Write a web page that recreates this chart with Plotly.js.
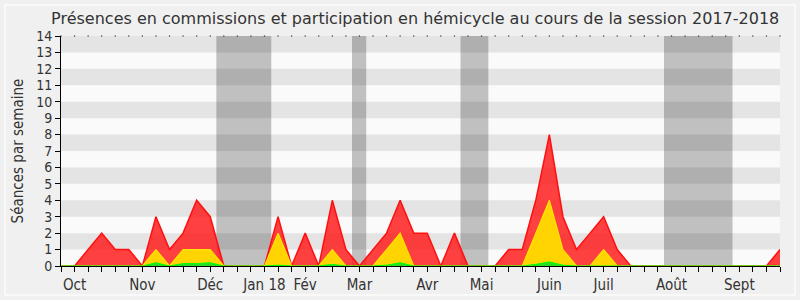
<!DOCTYPE html>
<html>
<head>
<meta charset="utf-8">
<script src="https://cdn.plot.ly/plotly-3.0.1.min.js"></script>
<style>html,body{margin:0;padding:0;background:#f0f0f0;}#chart{width:800px;height:300px;}</style>
</head>
<body>
<div id="chart"></div>
<script>
// Week index of the 2017-2018 session (0 .. 53)
const weeks = [0,1,2,3,4,5,6,7,8,9,10,11,12,13,14,15,16,17,18,19,20,21,22,23,24,25,26,27,28,29,30,31,32,33,34,35,36,37,38,39,40,41,42,43,44,45,46,47,48,49,50,51,52,53];
// Présences en commission (red, total)
const presences = [0,0,1,2,1,1,0,3,1,2,4,3,0,0,0,0,3,0,2,0,4,1,0,1,2,4,2,2,0,2,0,0,0,1,1,4,8,3,1,2,3,1,0,0,0,0,0,0,0,0,0,0,0,1];
// Participation en hémicycle (yellow)
const hemicycle = [0,0,0,0,0,0,0,1,0,1,1,1,0,0,0,0,2,0,0,0,1,0,0,0,1,2,0,0,0,0,0,0,0,0,0,2,4,1,0,0,1,0,0,0,0,0,0,0,0,0,0,0,0,0];
// Interventions (green)
const interventions = [0,0,0,0,0,0,0,0.2,0,0.15,0.15,0.2,0,0,0,0,0.05,0,0,0,0.1,0,0,0,0.05,0.2,0,0,0,0,0,0,0,0,0,0.1,0.25,0.05,0,0,0,0,0,0,0,0,0,0,0,0,0,0,0,0];
// Month labels and their week index
const monthLabels = ["Oct","Nov","Déc","Jan 18","Fév","Mar","Avr","Mai","Juin","Juil","Août","Sept"];
const monthWeeks = [1,6,11,15,18,22,27,31,36,40,45,50];
// Parliamentary holidays (week ranges)
const vacStart = [11.45,21.45,29.45,44.45];
const vacEnd = [15.5,22.5,31.5,49.5];
const yTicks = [0,1,2,3,4,5,6,7,8,9,10,11,12,13,14];

const tickText = weeks.map(w => { const k = monthWeeks.indexOf(w); return k >= 0 ? monthLabels[k] : ""; });

const shapes = [];
for (let i = 0; i < vacStart.length; i++) {
  shapes.push({type:'rect', layer:'below', xref:'x', yref:'paper', x0:vacStart[i], x1:vacEnd[i], y0:0, y1:1,
    fillcolor:'rgb(192,192,192)', line:{width:0}});
}
for (let v = 1; v < 14; v += 2) {
  shapes.push({type:'rect', layer:'below', xref:'paper', yref:'y', x0:0, x1:1, y0:v, y1:v+1,
    fillcolor:'rgba(0,0,0,0.085)', line:{width:0}});
}
// outer frame
shapes.push({type:'rect', layer:'below', xref:'paper', yref:'paper',
  x0:-56/719, x1:1+15/719, y0:-29/230, y1:1+31/230, line:{color:'#fbfbfb', width:1.5}, fillcolor:'rgba(0,0,0,0)'});

const font = "DejaVu Sans Condensed, DejaVu Sans, sans-serif";
const traces = [
  {x:weeks, y:presences, type:'scatter', mode:'lines', fill:'tozeroy',
   fillcolor:'rgba(255,30,30,0.85)', line:{color:'#ff1010', width:1.5}, hoverinfo:'skip'},
  {x:weeks, y:hemicycle, type:'scatter', mode:'lines', fill:'tozeroy',
   fillcolor:'rgb(255,212,0)', line:{color:'#ffe600', width:1.2}, hoverinfo:'skip'},
  {x:weeks, y:interventions, type:'scatter', mode:'lines', fill:'tozeroy',
   fillcolor:'rgb(40,220,40)', line:{color:'#00ff00', width:1}, hoverinfo:'skip'},
  {x:weeks, y:weeks.map(() => 14), type:'scatter', mode:'markers', cliponaxis:false,
   marker:{size:1.5, color:'#444'}, hoverinfo:'skip'}
];

const layout = {
  width:800, height:300,
  margin:{l:61, r:20, t:36, b:34},
  paper_bgcolor:'#f0f0f0', plot_bgcolor:'#fafafa',
  showlegend:false,
  font:{family:font, color:'#333'},
  title:{text:'Présences en commissions et participation en hémicycle au cours de la session 2017-2018',
    font:{family:'DejaVu Sans, sans-serif', size:16, color:'#333'}, x:0.519, xanchor:'center', y:0.94, yanchor:'middle'},
  xaxis:{range:[0,53], tickmode:'array', tickvals:weeks, ticktext:tickText,
    ticks:'outside', ticklen:5, tickcolor:'#000', showline:true, linecolor:'#000', linewidth:1,
    showgrid:false, zeroline:false, tickfont:{family:font, size:15, color:'#333'}, fixedrange:true},
  yaxis:{range:[0,14], tickmode:'array', tickvals:yTicks, ticks:'outside', ticklen:5, tickcolor:'#000',
    showline:true, linecolor:'#000', linewidth:1, showgrid:false, zeroline:false,
    tickfont:{family:font, size:14, color:'#333'},
    title:{text:'Séances par semaine', font:{family:font, size:15, color:'#333'}, standoff:8}, fixedrange:true},
  shapes:shapes
};
Plotly.newPlot('chart', traces, layout, {displayModeBar:false, staticPlot:true});
</script>
</body>
</html>
